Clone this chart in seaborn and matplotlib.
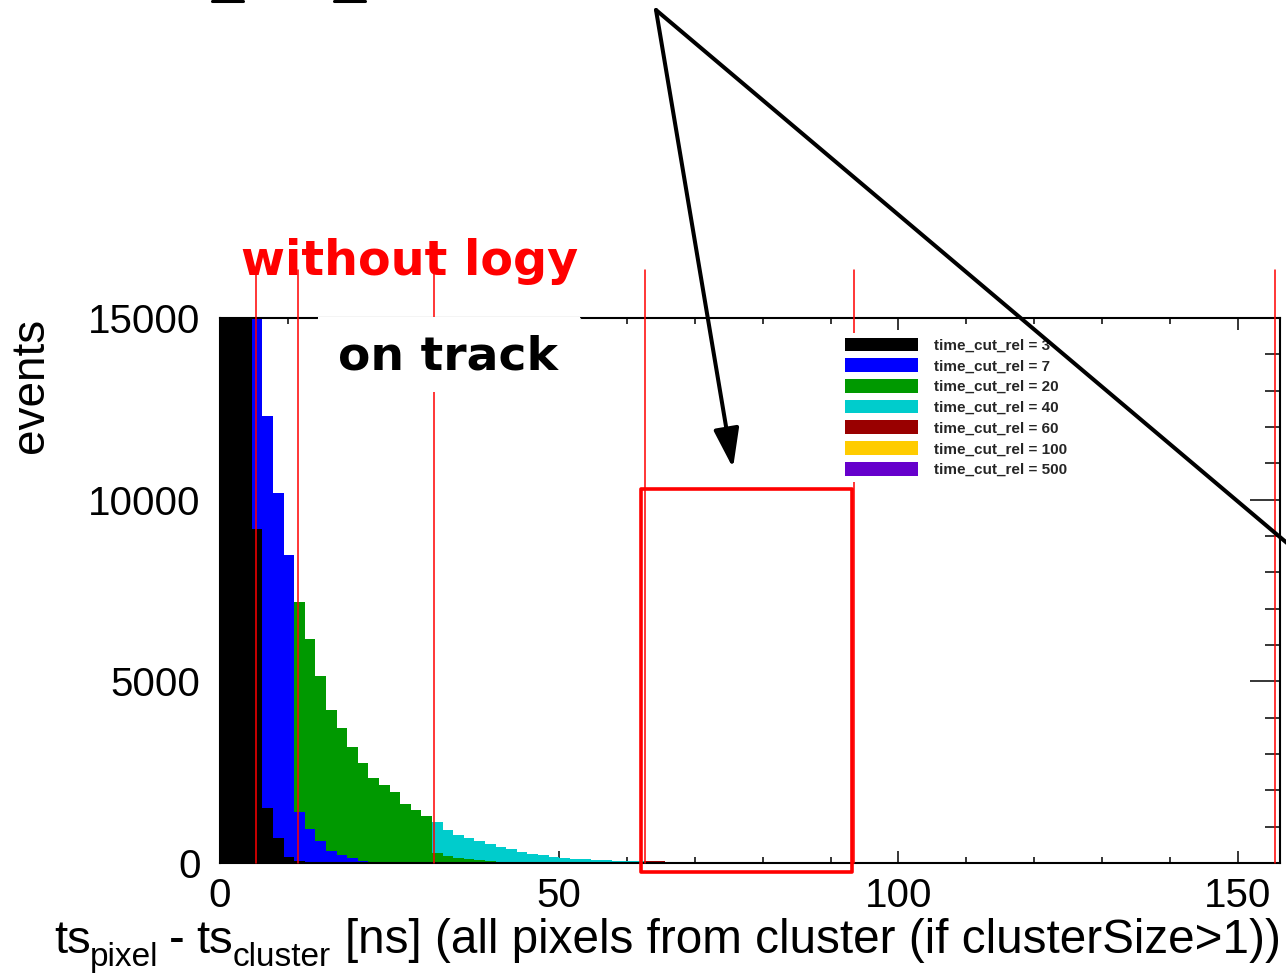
import numpy as np
import pandas as pd
import matplotlib
matplotlib.use("Agg")
import matplotlib.pyplot as plt
import seaborn as sns
from matplotlib.patches import Patch, Rectangle, FancyArrowPatch
from matplotlib.lines import Line2D
from matplotlib.ticker import MultipleLocator, FixedLocator

sns.set_theme(style="white")
plt.rcParams["font.family"] = ["Liberation Sans", "DejaVu Sans"]

# ---- histogram definition: 100 bins of 1.5625 ns (0 .. 156.25 ns) ----
BIN_WIDTH = 1.5625
N_BINS = 100

cut_values = [3, 7, 20, 40, 60, 100, 500]
cut_colors = ["#000000", "#0000ff", "#009900", "#00cccc", "#990000", "#ffcc00", "#6600cc"]

# bin contents, starting at bin 0 (remaining bins are empty)
counts_cut3 = [52000, 41000, 24000, 9190, 1510, 700, 160, 55, 15]
counts_cut7 = [50000, 40000, 26000, 18500, 12310, 10180, 8480, 1410, 930, 610,
               330, 210, 130, 55, 28, 12]
counts_cut20 = [47000, 37000, 24000, 14000, 11000, 9600, 8200, 7190, 6160, 5140,
                4210, 3710, 3180, 2760, 2350, 2150, 1950, 1620, 1460, 1300,
                270, 195, 140, 100, 80, 50, 30, 15]
counts_cut40 = [46000, 36000, 23000, 13500, 10500, 9200, 7900, 7000, 6000, 5000,
                4100, 3600, 3100, 2700, 2300, 2100, 1900, 1580, 1420, 1270,
                1120, 920, 760, 680, 615, 525, 430, 375, 310, 250,
                230, 165, 130, 110, 100, 83, 80, 55, 55, 46,
                20, 10]
counts_cut60 = [45000, 35500, 22500, 13200, 10300, 9000, 7700, 6800, 5850, 4900,
                4000, 3500, 3000, 2650, 2250, 2050, 1850, 1550, 1390, 1240,
                1100, 900, 745, 665, 600, 515, 420, 365, 300, 245,
                225, 160, 125, 105, 95, 80, 75, 52, 50, 44,
                55, 55, 35, 35, 35, 0, 30, 30, 0, 30,
                30, 25]
counts_cut100 = [44000, 35000, 22000, 13000, 10100, 8800, 7500, 6600, 5700, 4800,
                 3900, 3400, 2900, 2600, 2200, 2000, 1800, 1500, 1350, 1200,
                 1080, 880, 730, 650, 590, 505, 410, 355, 290, 240,
                 220, 155, 120, 100, 90, 75, 70, 50, 45, 40,
                 30, 25, 20, 15]
counts_cut500 = [43000, 34000, 21500, 12800, 9900, 8600, 7300, 6400, 5500, 4700,
                 3800, 3300, 2850, 2550, 2150, 1950, 1750, 1450, 1300, 1150,
                 1050, 860, 710, 630, 570, 490, 400, 345, 280, 230,
                 210, 150, 115, 95, 85, 70, 65, 45, 40, 35,
                 25, 20, 15, 10]

all_counts = [counts_cut3, counts_cut7, counts_cut20, counts_cut40,
              counts_cut60, counts_cut100, counts_cut500]

# positions of the marker lines and of the highlighted window [ns]
cut_marks = [5.26, 11.5, 31.6, 62.6, 93.5, 155.5]
highlight_x = (62.13, 93.09)
highlight_y = (-234, 10307)

x_ticks = [0, 50, 100, 150]
y_ticks = [0, 5000, 10000, 15000]

W, H = 1286, 973


def fx(px):
    return px / W


def fy(py):
    return 1 - py / H


fig = plt.figure(figsize=(W / 100, H / 100), dpi=100)
ax = fig.add_axes([fx(220), fy(863), (1280 - 220) / W, (863 - 318) / H])

edges = [i * BIN_WIDTH for i in range(N_BINS + 1)]
centers = [e + BIN_WIDTH / 2 for e in edges[:-1]]

# largest cut first so that the tighter cuts sit on top
for cut, color, counts in reversed(list(zip(cut_values, cut_colors, all_counts))):
    w = np.zeros(N_BINS)
    w[:len(counts)] = counts
    df = pd.DataFrame({"dt": centers, "n": w})
    sns.histplot(data=df, x="dt", weights="n", bins=edges, element="step", fill=True,
                 color=color, alpha=1, linewidth=0, ax=ax)

ax.set_xlim(0, N_BINS * BIN_WIDTH)
ax.set_ylim(0, 15000)
ax.set_xlabel("")
ax.set_ylabel("")

ax.xaxis.set_major_locator(FixedLocator(x_ticks))
ax.xaxis.set_minor_locator(MultipleLocator(10))
ax.yaxis.set_major_locator(FixedLocator(y_ticks))
ax.yaxis.set_minor_locator(MultipleLocator(1000))
ax.set_xticklabels([str(t) for t in x_ticks])
ax.set_yticklabels([str(t) for t in y_ticks])

ax.tick_params(which="both", direction="in", top=True, right=True,
               bottom=True, left=True, color="black", width=1.1,
               labelsize=29, labelcolor="black")
ax.tick_params(axis="x", which="major", length=8.6, pad=10)
ax.tick_params(axis="x", which="minor", length=4.3)
ax.tick_params(axis="y", which="major", length=21.6, pad=14)
ax.tick_params(axis="y", which="minor", length=10.8)
for sp in ax.spines.values():
    sp.set_color("black")
    sp.set_linewidth(1.5)
    sp.set_zorder(3)

# vertical marker lines reaching above the frame
for xm in cut_marks:
    ax.plot([xm, xm], [0, 1.088], transform=ax.get_xaxis_transform(),
            color="#ff0000", lw=1.1, clip_on=False, zorder=4)

# highlighted window
ax.add_patch(Rectangle((highlight_x[0], highlight_y[0]),
                       highlight_x[1] - highlight_x[0],
                       highlight_y[1] - highlight_y[0],
                       fill=False, edgecolor="#ff0000", lw=2.6,
                       clip_on=False, zorder=4, joinstyle="round"))

handles = [Patch(facecolor=c, edgecolor="none", label=f"time_cut_rel = {v}")
           for v, c in zip(cut_values, cut_colors)]
leg = ax.legend(handles=handles, loc="upper left",
                bbox_to_anchor=(fx(840), fy(333)), bbox_transform=fig.transFigure,
                frameon=True, facecolor="white", edgecolor="none", framealpha=1,
                fancybox=False, prop={"family": "Liberation Sans", "weight": "bold", "size": 11},
                handlelength=4.8, handleheight=1.0, labelspacing=0.37,
                handletextpad=1.05, borderpad=0.3, borderaxespad=0)
leg.set_zorder(6)

# white label box over the frame
fig.patches.append(Rectangle((fx(318), fy(392)), (580 - 318) / W, (392 - 317) / H,
                             transform=fig.transFigure, facecolor="white",
                             edgecolor="none", zorder=5))
fig.lines.append(Line2D([fx(318), fx(580)], [fy(318), fy(318)], transform=fig.transFigure,
                        color="#cccccc", lw=1, zorder=5))
fig.text(fx(338), fy(370), "on track", family="DejaVu Sans", fontweight="bold",
         fontsize=34, color="black", ha="left", va="baseline", zorder=7)

fig.text(fx(241), fy(275), "without logy", family="DejaVu Sans", fontweight="bold",
         fontsize=34.3, color="#ff0000", ha="left", va="baseline", zorder=7)

fig.text(fx(31), fy(318), "events", fontsize=33, rotation=90, ha="center", va="top",
         color="black")

# x-axis title, set piece by piece (base text, lowered subscripts, trailing text)
xtitle_parts = [
    ("ts", 54, 953, 34),
    ("pixel", 90, 966, 24),
    ("-", 169, 953, 34),
    ("ts", 196, 953, 34),
    ("cluster", 233, 966, 24),
    ("[ns] (all pixels from cluster (if clusterSize>1))", 345, 953, 34.3),
]
for txt, px, py, size in xtitle_parts:
    fig.text(fx(px), fy(py), txt, fontsize=size, ha="left", va="baseline", color="black")

# pointer arrow and guide line
apex = (656, 10)
fig.patches.append(FancyArrowPatch((fx(apex[0]), fy(apex[1])), (fx(733), fy(468)),
                                   transform=fig.transFigure,
                                   arrowstyle="-|>,head_length=0.4,head_width=0.13",
                                   mutation_scale=60, color="black", lw=2.9,
                                   shrinkA=0, shrinkB=0, zorder=10))
fig.lines.append(Line2D([fx(apex[0]), fx(1300)], [fy(apex[1]), fy(554)],
                        transform=fig.transFigure, color="black", lw=2.9, zorder=10))
for x0, x1 in [(212, 243), (334, 365)]:
    fig.lines.append(Line2D([fx(x0), fx(x1)], [fy(1), fy(1)], transform=fig.transFigure,
                            color="black", lw=2.2, zorder=10))

fig.savefig("out.png", dpi=100)
